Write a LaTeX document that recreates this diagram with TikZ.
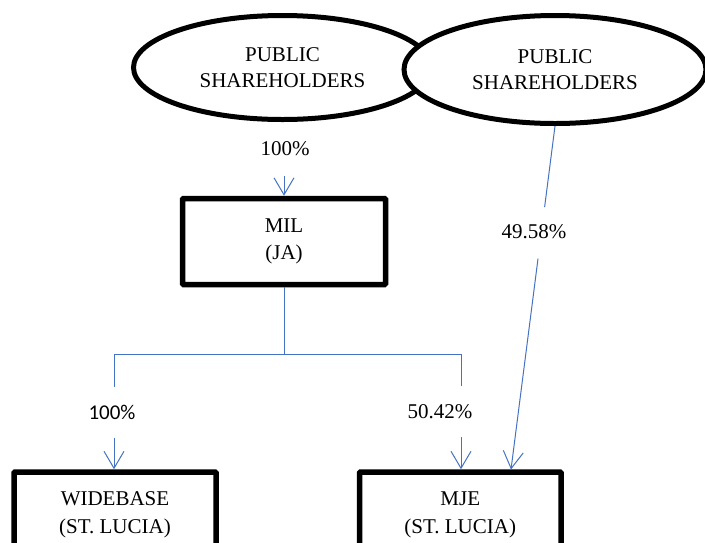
\documentclass[tikz,border=0pt]{standalone}
\usepackage{fontspec}
\setmainfont{Liberation Serif}
\newfontfamily\carlfont{Carlito}
\usetikzlibrary{shapes.geometric,arrows.meta,calc}
\definecolor{linkblue}{HTML}{4472C4}
\begin{document}
\begin{tikzpicture}[x=1pt,y=-1pt,
  holder/.style={ellipse,draw=black,line width=5pt,fill=white,inner sep=0pt,align=center,font=\fontsize{21}{26}\selectfont},
  entity/.style={rectangle,draw=black,line width=5.5pt,fill=white,inner sep=0pt,align=center,rounded corners=1pt,font=\fontsize{21}{27.5}\selectfont},
  pct/.style={inner sep=1pt,font=\fontsize{21}{25}\selectfont},
  pctsans/.style={inner sep=1pt,font=\carlfont\fontsize{21}{25}\selectfont},
  conn/.style={draw=linkblue,line width=1pt},
  tip/.style={-{Straight Barb[length=17pt,width=20pt]}}
]
\useasboundingbox (0,0) rectangle (705,542);

% shareholders
\node[holder,minimum width=298pt,minimum height=104pt] (pubA) at (282.5,67.5) {PUBLIC\\SHAREHOLDERS};
\node[holder,minimum width=302pt,minimum height=108pt] (pubB) at (555,69.5) {PUBLIC\\SHAREHOLDERS};

% companies
\node[entity,minimum width=203pt,minimum height=86pt] (mil) at (284,241.5) {MIL\\(JA)};
\node[entity,minimum width=202pt,minimum height=86pt] (wide) at (115,515) {WIDEBASE\\(ST. LUCIA)};
\node[entity,minimum width=201.5pt,minimum height=86pt] (mje) at (460.25,515) {MJE\\(ST. LUCIA)};

% percentage labels
\node[pct] (lMil) at (285,149) {100\%};
\node[pctsans] (lWide) at (112,412) {100\%};
\node[pct] (lMje) at (440,412) {50.42\%};
\node[pct] (lPub) at (534,232) {49.58\%};

% connector points
\coordinate (sMil) at (284,176);
\coordinate (jT) at (284,354);
\coordinate (jL) at (114,354);
\coordinate (jR) at (461,354);
\coordinate (eL) at (114,387);
\coordinate (eR) at (461,386);
\coordinate (sL) at (114,438);
\coordinate (sR) at (461,437);
\coordinate (mjeIn) at (511,469.5);
\coordinate (c1) at ($(pubB.south)!0.236!(mjeIn)$);
\coordinate (c2) at ($(pubB.south)!0.386!(mjeIn)$);

% connectors
\draw[conn,tip] (sMil) -- (mil.north);
\draw[conn] (mil.south) -- (jT);
\draw[conn] (jL) -- (jR);
\draw[conn] (jL) -- (eL);
\draw[conn] (jR) -- (eR);
\draw[conn,tip] (sL) -- (sL |- wide.north);
\draw[conn,tip] (sR) -- (sR |- mje.north);
\draw[conn] (pubB.south) -- (c1);
\draw[conn,tip] (c2) -- (mjeIn);
\end{tikzpicture}
\end{document}
